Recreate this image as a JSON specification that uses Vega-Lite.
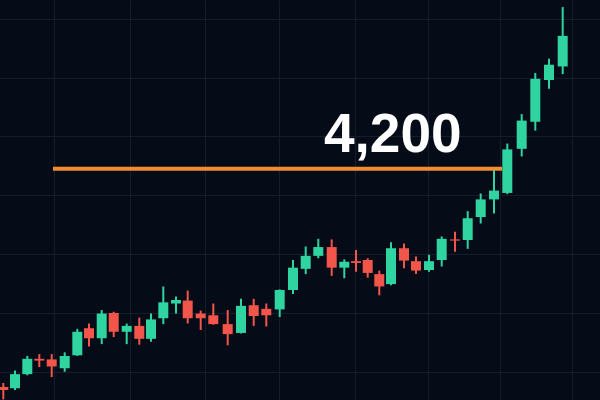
{
  "$schema": "https://vega.github.io/schema/vega-lite/v6.json",
  "width": 600,
  "height": 400,
  "autosize": {"type": "fit", "contains": "padding"},
  "padding": 0,
  "background": "#060b18",
  "config": {
    "view": {"stroke": null},
    "scale": {"continuousPadding": 0},
    "axis": {"minExtent": 0, "maxExtent": 0, "labels": false, "ticks": false, "domain": false, "title": null, "grid": true, "gridColor": "#151d2c", "gridWidth": 1, "gridOpacity": 1}
  },
  "datasets": {
    "candles": [
      {"t": 3.3, "open": 3824, "high": 3831, "low": 3803, "close": 3819},
      {"t": 15, "open": 3822, "high": 3852, "low": 3819, "close": 3846},
      {"t": 27.3, "open": 3846, "high": 3877, "low": 3844, "close": 3872},
      {"t": 39.3, "open": 3872, "high": 3880, "low": 3858, "close": 3869},
      {"t": 51.7, "open": 3871, "high": 3880, "low": 3841, "close": 3859},
      {"t": 64.7, "open": 3856, "high": 3883, "low": 3850, "close": 3877},
      {"t": 77.3, "open": 3878, "high": 3923, "low": 3877, "close": 3918},
      {"t": 89, "open": 3924, "high": 3932, "low": 3893, "close": 3907},
      {"t": 101.7, "open": 3907, "high": 3955, "low": 3897, "close": 3949},
      {"t": 113.7, "open": 3950, "high": 3952, "low": 3909, "close": 3918},
      {"t": 126.7, "open": 3918, "high": 3932, "low": 3897, "close": 3928},
      {"t": 139.3, "open": 3928, "high": 3942, "low": 3896, "close": 3906},
      {"t": 151, "open": 3906, "high": 3949, "low": 3901, "close": 3939},
      {"t": 163.3, "open": 3941, "high": 3995, "low": 3931, "close": 3968},
      {"t": 176, "open": 3966, "high": 3978, "low": 3949, "close": 3972},
      {"t": 187.7, "open": 3971, "high": 3988, "low": 3932, "close": 3941},
      {"t": 200.7, "open": 3949, "high": 3954, "low": 3921, "close": 3941},
      {"t": 213.3, "open": 3946, "high": 3966, "low": 3930, "close": 3931},
      {"t": 227.7, "open": 3931, "high": 3955, "low": 3895, "close": 3914},
      {"t": 241, "open": 3916, "high": 3974, "low": 3915, "close": 3962},
      {"t": 253.7, "open": 3963, "high": 3974, "low": 3928, "close": 3945},
      {"t": 266.3, "open": 3957, "high": 3966, "low": 3927, "close": 3946},
      {"t": 279.7, "open": 3956, "high": 3990, "low": 3943, "close": 3989},
      {"t": 293, "open": 3989, "high": 4040, "low": 3982, "close": 4027},
      {"t": 305.7, "open": 4025, "high": 4063, "low": 4016, "close": 4047},
      {"t": 318.3, "open": 4047, "high": 4076, "low": 4043, "close": 4062},
      {"t": 331.7, "open": 4062, "high": 4075, "low": 4013, "close": 4027},
      {"t": 344.3, "open": 4027, "high": 4041, "low": 4009, "close": 4037},
      {"t": 356, "open": 4038, "high": 4057, "low": 4020, "close": 4035},
      {"t": 367.7, "open": 4040, "high": 4043, "low": 4010, "close": 4018},
      {"t": 379.3, "open": 4016, "high": 4022, "low": 3980, "close": 3995},
      {"t": 391, "open": 3999, "high": 4070, "low": 3997, "close": 4060},
      {"t": 404, "open": 4060, "high": 4068, "low": 4026, "close": 4039},
      {"t": 416, "open": 4038, "high": 4046, "low": 4016, "close": 4022},
      {"t": 429, "open": 4023, "high": 4049, "low": 4020, "close": 4038},
      {"t": 441.7, "open": 4040, "high": 4080, "low": 4029, "close": 4076},
      {"t": 455, "open": 4075, "high": 4088, "low": 4054, "close": 4073},
      {"t": 467.7, "open": 4074, "high": 4123, "low": 4059, "close": 4111},
      {"t": 480.7, "open": 4113, "high": 4153, "low": 4102, "close": 4143},
      {"t": 494, "open": 4143, "high": 4193, "low": 4119, "close": 4158},
      {"t": 507.3, "open": 4154, "high": 4238, "low": 4152, "close": 4228},
      {"t": 521.7, "open": 4229, "high": 4288, "low": 4216, "close": 4277},
      {"t": 535.3, "open": 4275, "high": 4358, "low": 4260, "close": 4348},
      {"t": 549, "open": 4346, "high": 4382, "low": 4331, "close": 4372},
      {"t": 562.7, "open": 4369, "high": 4470, "low": 4356, "close": 4421}
    ],
    "level": [{"start": 53, "end": 502, "price": 4195}],
    "label": [{"t": 324, "price": 4224, "text": "4,200"}]
  },
  "layer": [
    {
      "data": {"name": "candles"},
      "mark": {"type": "rule", "strokeWidth": 2, "clip": true},
      "encoding": {
        "x": {"field": "t", "type": "quantitative", "scale": {"domain": [0, 600], "nice": false, "zero": false, "padding": 0}, "axis": {"values": [54, 130, 205, 279, 355, 428, 500, 572]}},
        "y": {"field": "low", "type": "quantitative", "scale": {"domain": [3802, 4482], "nice": false, "zero": false, "padding": 0}, "axis": {"values": [3850, 3900, 3950, 4000, 4050, 4100, 4150, 4200, 4250, 4300, 4350, 4400, 4450]}},
        "y2": {"field": "high"},
        "color": {"condition": {"test": "datum.close >= datum.open", "value": "#2fd4a0"}, "value": "#f2554a"}
      }
    },
    {
      "data": {"name": "candles"},
      "mark": {"type": "bar", "size": 10, "clip": true},
      "encoding": {
        "x": {"field": "t", "type": "quantitative"},
        "y": {"field": "open", "type": "quantitative"},
        "y2": {"field": "close"},
        "color": {"condition": {"test": "datum.close >= datum.open", "value": "#2fd4a0"}, "value": "#f2554a"}
      }
    },
    {
      "data": {"name": "level"},
      "mark": {"type": "rule", "strokeWidth": 4, "color": "#f28c33"},
      "encoding": {
        "x": {"field": "start", "type": "quantitative"},
        "x2": {"field": "end"},
        "y": {"field": "price", "type": "quantitative"}
      }
    },
    {
      "data": {"name": "label"},
      "mark": {"type": "text", "align": "left", "baseline": "alphabetic", "font": "Liberation Sans", "fontWeight": "bold", "fontSize": 55, "color": "#ffffff"},
      "encoding": {
        "x": {"field": "t", "type": "quantitative"},
        "y": {"field": "price", "type": "quantitative"},
        "text": {"field": "text"}
      }
    }
  ]
}
